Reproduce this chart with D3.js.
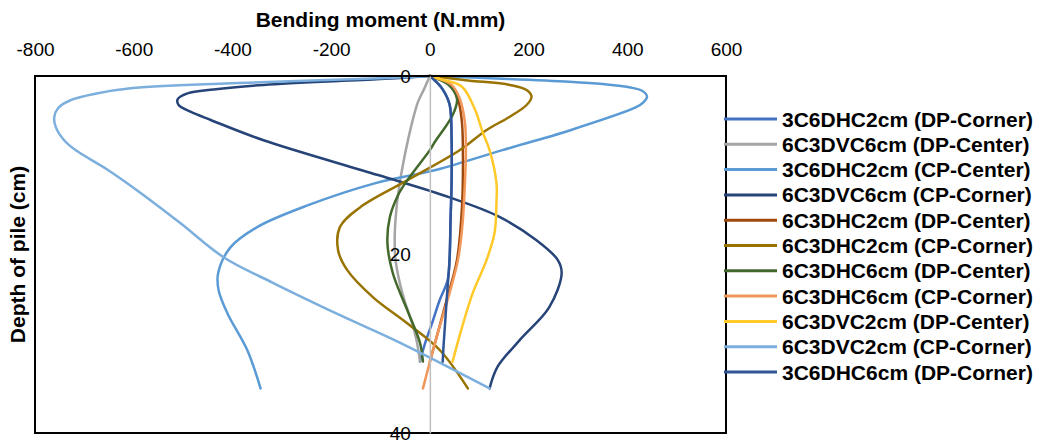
<!DOCTYPE html>
<html>
<head>
<meta charset="utf-8">
<script src="https://cdn.jsdelivr.net/npm/d3@7"></script>
<style>
  html, body { margin: 0; padding: 0; background: #fff; }
  svg { display: block; font-family: "Liberation Sans", Arial, sans-serif; }
</style>
</head>
<body>
<svg id="chart" width="1043" height="445"></svg>
<script>
// Axis ticks
const momentTicks = [-800, -600, -400, -200, 0, 200, 400, 600];
const depthTicks = [0, 20, 40];

// Series names (legend order) and colours
const seriesNames = [
  "3C6DHC2cm (DP-Corner)",
  "6C3DVC6cm (DP-Center)",
  "3C6DHC2cm (CP-Center)",
  "6C3DVC6cm (CP-Corner)",
  "6C3DHC2cm (DP-Center)",
  "6C3DHC2cm (CP-Corner)",
  "6C3DHC6cm (DP-Center)",
  "6C3DHC6cm (CP-Corner)",
  "6C3DVC2cm (DP-Center)",
  "6C3DVC2cm (CP-Corner)",
  "3C6DHC6cm (DP-Corner)"
];
const seriesColors = [
  "#4472C4", "#A5A5A5", "#5B9BD5", "#264478", "#9E480E", "#997300",
  "#43682B", "#F1975A", "#FFC929", "#7CAFDD", "#2F5597"
];

// Depth (cm) and bending moment (N.mm) for each series
const depth1  = [0, 0.6, 1.5, 3.2, 7, 12, 16, 20.4, 22.9, 25.1, 27.6, 30, 32];
const moment1 = [0, 12, 26, 40, 44, 44, 42, 40, 36, 20, 5, -10, -20];

const depth2  = [0, 1.5, 2.9, 5, 7.1, 9.5, 12, 14.5, 17.6, 20.4, 23.4, 25.4, 27.3, 29.6, 32];
const moment2 = [0, -12, -24, -35, -44, -53, -61, -67, -71, -70, -60, -50, -38, -27, -20];

const depth3  = [0, 0.3, 0.64, 0.9, 1.27, 1.65, 2.32, 2.99, 3.5, 6.1, 8.3, 10.5, 12, 14.5, 16.9, 19.2, 22.1, 24, 26.6, 30.7, 35];
const moment3 = [0, 147, 283, 350, 404, 430, 440, 432, 418, 283, 147, 14, -110, -248, -349, -404, -429, -428, -410, -370, -343];

const depth4  = [0, 0.35, 1.0, 1.5, 1.94, 2.6, 3.25, 4.0, 4.93, 7.2, 11.1, 13.6, 15.7, 18.4, 20.6, 22.1, 25.9, 29.6, 32.6, 35];
const moment4 = [0, -101, -337, -438, -491, -511, -509, -485, -444, -337, -105, 40, 138, 216, 259, 267, 242, 182, 137, 121];

const depth5  = [0, 1, 2.6, 5.2, 8.9, 14.8, 20.6, 25.1, 29.2, 32];
const moment5 = [0, 40, 57, 65, 67, 65, 55, 34, 14, 0];

const depth6  = [0, 0.25, 0.52, 1.0, 1.57, 2.32, 3.25, 4.56, 6.05, 8.3, 11.7, 14.7, 16.9, 19.5, 21.7, 24.8, 27.7, 30.7, 35];
const moment6 = [0, 40, 81, 162, 196, 206, 196, 162, 115, 61, -46, -141, -182, -186, -168, -115, -46, 20, 77];

const depth7  = [0, 1, 2.6, 4.4, 7.4, 8.3, 11.7, 13.3, 15.8, 18.7, 22.1, 26.2, 29.9, 32];
const moment7 = [0, 38, 55, 46, 10, 0, -46, -64, -81, -86, -75, -46, -20, -14];

const depth8  = [0, 1, 2.6, 5.2, 8.3, 12, 16.7, 20.6, 24.3, 29.2, 35];
const moment8 = [0, 44, 61, 71, 73, 71, 66, 57, 40, 14, -14];

const depth9  = [0, 0.4, 1.2, 3.7, 6.3, 8.3, 12, 14.1, 17.6, 20.6, 24.3, 28, 32];
const moment9 = [0, 25, 65, 91, 107, 121, 135, 135, 131, 115, 87, 66, 46];

const depth10  = [0, 0.25, 0.82, 1.38, 1.94, 2.69, 3.59, 4.6, 5.7, 7.2, 8.3, 10.5, 13.1, 16.5, 20.3, 23.2, 26.8, 29.9, 35];
const moment10 = [0, -101, -404, -606, -673, -727, -753, -761, -758, -741, -718, -653, -586, -505, -418, -317, -182, -60, 121];

const depth11  = [0, 0.6, 1.5, 3.2, 7, 12, 16, 20.4, 22.9, 25.1, 27.6, 30, 32];
const moment11 = [0, 12, 26, 40, 44, 44, 42, 40, 37, 34, 31, 28, 26];

const depths  = [depth1, depth2, depth3, depth4, depth5, depth6, depth7, depth8, depth9, depth10, depth11];
const moments = [moment1, moment2, moment3, moment4, moment5, moment6, moment7, moment8, moment9, moment10, moment11];

const series = seriesNames.map((name, i) => ({
  name,
  color: seriesColors[i],
  points: depths[i].map((d, j) => ({ depth: d, moment: moments[i][j] }))
}));

// Layout
const plot = { left: 35, right: 726, top: 76, bottom: 433 };

const svg = d3.select("#chart");

const x = d3.scaleLinear().domain([-800, 600]).range([plot.left, plot.right]);
const y = d3.scaleLinear().domain([0, 40]).range([plot.top, plot.bottom]);

const plainNumber = d => String(d);

// Plot area background
svg.append("rect")
  .attr("x", plot.left).attr("y", plot.top)
  .attr("width", plot.right - plot.left).attr("height", plot.bottom - plot.top)
  .attr("fill", "#fff");

// Vertical axis line at zero moment
const yAxis = d3.axisLeft(y).tickValues(depthTicks).tickSize(0).tickPadding(19).tickFormat(plainNumber);
const yAxisG = svg.append("g")
  .attr("transform", `translate(${x(0)},0)`)
  .call(yAxis);
yAxisG.select(".domain").attr("stroke", "#BFBFBF").attr("stroke-width", 1.5);

// Smoothed curves through the measured points
const line = d3.line()
  .x(p => x(p.moment))
  .y(p => y(p.depth))
  .curve(d3.curveCatmullRom.alpha(0.5));

svg.append("g")
  .selectAll("path")
  .data(series)
  .join("path")
  .attr("d", s => line(s.points))
  .attr("fill", "none")
  .attr("stroke", s => s.color)
  .attr("stroke-width", 2.5)
  .attr("stroke-linejoin", "round")
  .attr("stroke-linecap", "round");

// Plot border
svg.append("rect")
  .attr("x", plot.left).attr("y", plot.top)
  .attr("width", plot.right - plot.left).attr("height", plot.bottom - plot.top)
  .attr("fill", "none")
  .attr("stroke", "#000")
  .attr("stroke-width", 2);

// Depth tick labels drawn above the curves
yAxisG.raise();
yAxisG.selectAll(".tick text")
  .attr("font-size", 19)
  .attr("fill", "#000")
  .attr("font-family", "Liberation Sans, Arial, sans-serif");

// Moment axis on top
const xAxis = d3.axisTop(x).tickValues(momentTicks).tickSize(0).tickPadding(20).tickFormat(plainNumber);
const xAxisG = svg.append("g")
  .attr("transform", `translate(0,${plot.top})`)
  .call(xAxis);
xAxisG.select(".domain").remove();
xAxisG.selectAll(".tick text")
  .attr("font-size", 19)
  .attr("fill", "#000")
  .attr("font-family", "Liberation Sans, Arial, sans-serif");

// Axis titles
svg.append("text")
  .attr("x", (plot.left + plot.right) / 2)
  .attr("y", 19)
  .attr("text-anchor", "middle")
  .attr("dominant-baseline", "central")
  .attr("font-size", 21)
  .attr("font-weight", "bold")
  .text("Bending moment (N.mm)");

svg.append("text")
  .attr("transform", `translate(17,${(plot.top + plot.bottom) / 2}) rotate(-90)`)
  .attr("text-anchor", "middle")
  .attr("dominant-baseline", "central")
  .attr("font-size", 21)
  .attr("font-weight", "bold")
  .text("Depth of pile (cm)");

// Legend
const legend = svg.append("g");
const legendTop = 119, legendStep = 25.3;
const items = legend.selectAll("g")
  .data(series)
  .join("g")
  .attr("transform", (s, i) => `translate(0,${legendTop + i * legendStep})`);
items.append("line")
  .attr("x1", 724).attr("x2", 777)
  .attr("y1", 0).attr("y2", 0)
  .attr("stroke", s => s.color)
  .attr("stroke-width", 3);
items.append("text")
  .attr("x", 782)
  .attr("y", 0)
  .attr("dominant-baseline", "central")
  .attr("font-size", 21)
  .attr("font-weight", "bold")
  .attr("fill", "#000")
  .text(s => s.name);
</script>
</body>
</html>
